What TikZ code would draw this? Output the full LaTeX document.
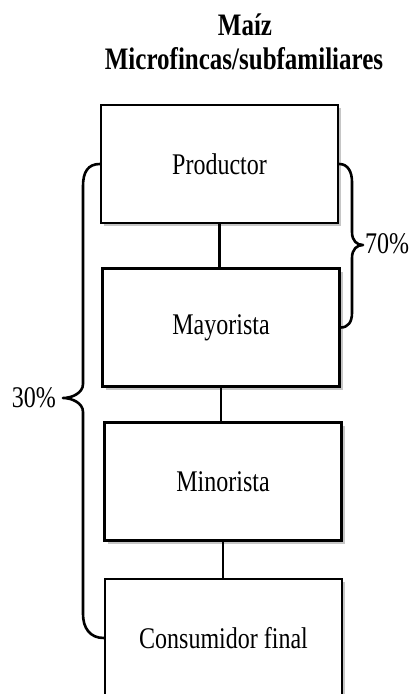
\documentclass[tikz,border=0pt]{standalone}
\usepackage{fontspec}
\usepackage{graphicx}
\setmainfont{Liberation Serif}
\usetikzlibrary{calc}
\newcommand\vstretch[1]{\scalebox{1}[1.25]{#1}}
\begin{document}
\begin{tikzpicture}[x=1pt,y=-1pt,
  stagebox/.style={draw=black, line width=2.6pt, fill=white,
    minimum width=237pt, minimum height=118pt, inner sep=0pt,
    font=\fontsize{24}{26}\selectfont,
    preaction={fill=gray!45, transform canvas={shift={(3,3)}}}},
  link/.style={line width=2.4pt},
  bracepath/.style={line width=2.6pt, line cap=round, line join=round},
  titletext/.style={font=\bfseries\fontsize{25}{28}\selectfont, anchor=base, inner sep=0pt},
  pct/.style={font=\fontsize{24}{26}\selectfont, inner sep=0pt}]
\useasboundingbox (0,0) rectangle (413,694);

\node[titletext] (t1) at (245,35) {\vstretch{Maíz}};
\node[titletext] (t2) at (244,69) {\vstretch{Microfincas/subfamiliares}};

\node[stagebox] (prod) at (219.5,164) {\vstretch{Productor}};
\node[stagebox] (may)  at (221,327.5) {\vstretch{Mayorista}};
\node[stagebox] (min)  at (223,481.5) {\vstretch{Minorista}};
\node[stagebox] (cons) at (223.5,638) {\vstretch{Consumidor final}};

\draw[link] (prod.south) -- (prod.south |- may.north);
\draw[link] (may.south) -- (may.south |- min.north);
\draw[link] (min.south) -- (min.south |- cons.north);

\coordinate (ltip) at (63,398);
\coordinate (rtip) at (363,245);

\draw[bracepath] (prod.west) .. controls (88,164) and (83,172) .. (83,186)
  -- (83,384) .. controls (83,393) and (72,398) .. (ltip)
  .. controls (72,398) and (83,403) .. (83,412)
  -- (83,614) .. controls (83,628) and (90,638) .. (cons.west);

\draw[bracepath] (prod.east) .. controls (348,164) and (352,172) .. (352,182)
  -- (352,232) .. controls (352,241) and (357,245) .. (rtip)
  .. controls (357,245) and (352,249) .. (352,258)
  -- (352,313) .. controls (352,322) and (348,327.5) .. (may.east);

\node[pct, anchor=east] (l30) at ($(ltip)+(-7,0)$) {\vstretch{30\%}};
\node[pct, anchor=west] (l70) at ($(rtip)+(2,-1)$) {\vstretch{70\%}};
\end{tikzpicture}
\end{document}
